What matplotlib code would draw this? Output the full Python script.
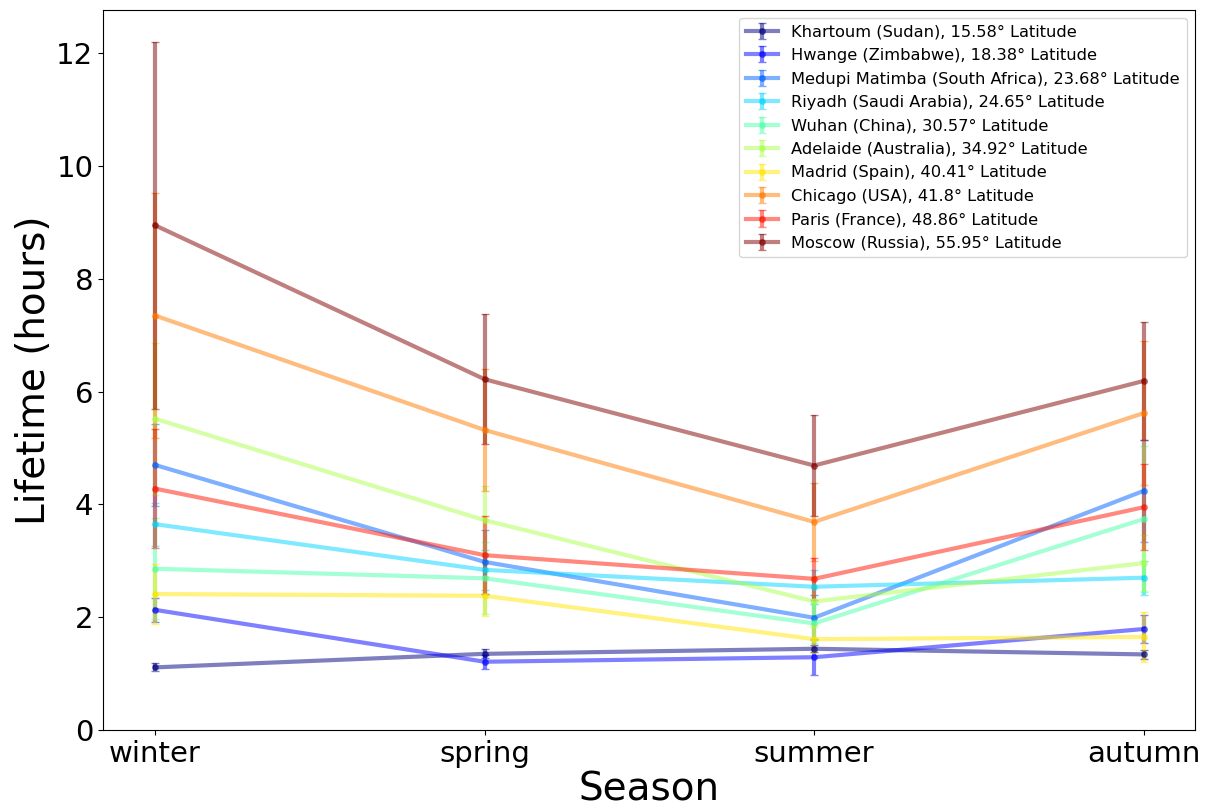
import numpy as np
import matplotlib

matplotlib.use("Agg")
import matplotlib.pyplot as plt

# seasons and cities
seasons = ["winter", "spring", "summer", "autumn"]
cities = [
    "Khartoum (Sudan), 15.58° Latitude",
    "Hwange (Zimbabwe), 18.38° Latitude",
    "Medupi Matimba (South Africa), 23.68° Latitude",
    "Riyadh (Saudi Arabia), 24.65° Latitude",
    "Wuhan (China), 30.57° Latitude",
    "Adelaide (Australia), 34.92° Latitude",
    "Madrid (Spain), 40.41° Latitude",
    "Chicago (USA), 41.8° Latitude",
    "Paris (France), 48.86° Latitude",
    "Moscow (Russia), 55.95° Latitude",
]

# mean lifetime (hours) per season
khartoum = [1.11, 1.35, 1.44, 1.34]
hwange = [2.13, 1.21, 1.29, 1.79]
medupi = [4.70, 2.98, 1.99, 4.24]
riyadh = [3.65, 2.84, 2.54, 2.70]
wuhan = [2.86, 2.69, 1.89, 3.74]
adelaide = [5.52, 3.72, 2.28, 2.96]
madrid = [2.41, 2.38, 1.61, 1.65]
chicago = [7.35, 5.32, 3.69, 5.62]
paris = [4.28, 3.10, 2.68, 3.95]
moscow = [8.95, 6.22, 4.69, 6.19]

# error bar half-widths
khartoum_err = [0.07, 0.08, 0.06, 0.08]
hwange_err = [0.21, 0.12, 0.32, 0.25]
medupi_err = [0.73, 0.57, 0.40, 0.90]
riyadh_err = [0.38, 0.35, 0.30, 0.30]
wuhan_err = [0.90, 0.64, 0.35, 1.29]
adelaide_err = [1.35, 0.60, 0.45, 0.50]
madrid_err = [0.53, 0.35, 0.25, 0.45]
chicago_err = [2.17, 1.08, 0.69, 1.28]
paris_err = [1.05, 0.69, 0.37, 0.76]
moscow_err = [3.25, 1.15, 0.90, 1.05]

means = [khartoum, hwange, medupi, riyadh, wuhan,
         adelaide, madrid, chicago, paris, moscow]
errs = [khartoum_err, hwange_err, medupi_err, riyadh_err, wuhan_err,
        adelaide_err, madrid_err, chicago_err, paris_err, moscow_err]

colors = plt.cm.jet(np.linspace(0, 1, len(cities)))
x = np.arange(len(seasons))

fig = plt.figure(figsize=(12.08, 8.09), dpi=100)
ax = fig.add_axes([0.0853, 0.0977, 0.9037, 0.89])

for name, m, e, c in zip(cities, means, errs, colors):
    ax.errorbar(x, m, yerr=e, fmt="-o", color=c, alpha=0.5,
                linewidth=3, markersize=4, elinewidth=3, capsize=3,
                label=name)

ax.set_xticks(x)
ax.set_xticklabels(seasons)
ax.set_xlim(-0.158, 3.155)
ax.set_ylim(0, 12.77)
ax.tick_params(axis="both", labelsize=21)
ax.set_xlabel("Season", fontsize=28, labelpad=2)
ax.set_ylabel("Lifetime (hours)", fontsize=28, labelpad=2)
ax.legend(loc="upper right", fontsize=11.7, labelspacing=0.52)

fig.savefig("out.png", dpi=100)
